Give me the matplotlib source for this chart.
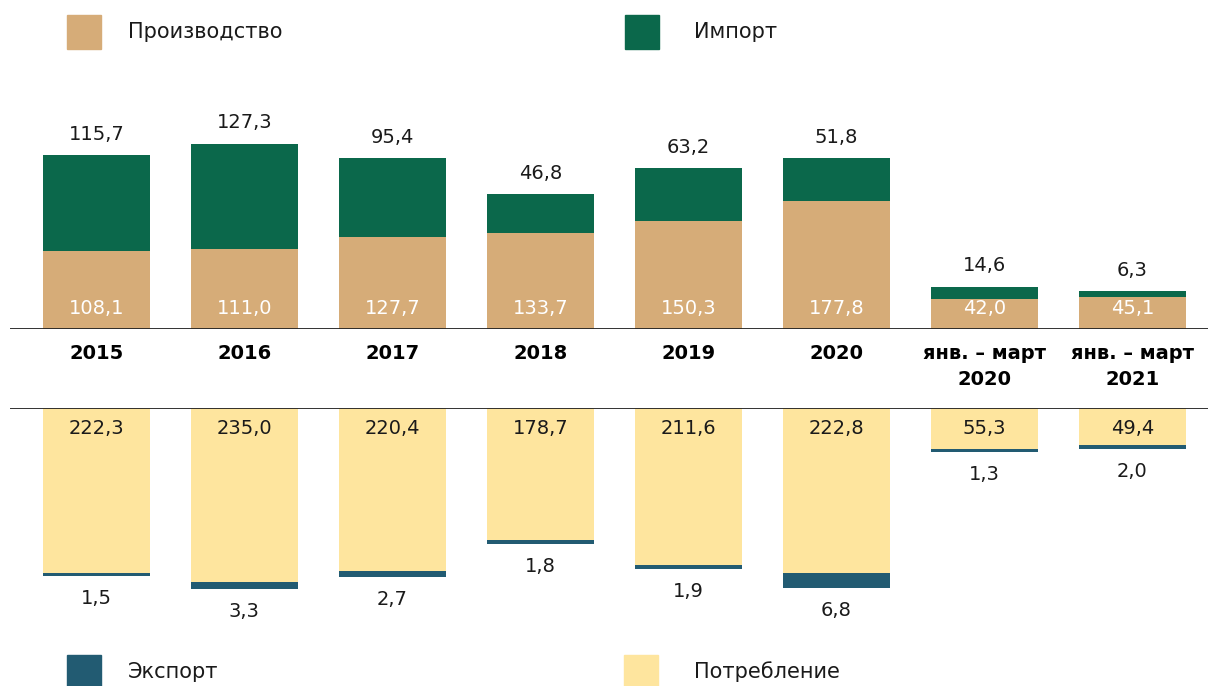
import matplotlib.pyplot as plt
from matplotlib.patches import Rectangle
import numpy as np

plt.rcParams['font.family'] = ['DejaVu Sans']

# Данные ------------
categories = ["2015", "2016", "2017", "2018", "2019", "2020", "янв. – март\n2020", "янв. – март\n2021"]
production = [108.1, 111.0, 127.7, 133.7, 150.3, 177.8, 42.0, 45.1]
imports = [115.7, 127.3, 95.4, 46.8, 63.2, 51.8, 14.6, 6.3]
consumption = [222.3, 235.0, 220.4, 178.7, 211.6, 222.8, 55.3, 49.4]
exports = [1.5, 3.3, 2.7, 1.8, 1.9, 6.8, 1.3, 2.0]
# --------------------

# масштаб на рисунке разный для серий (как в оригинале)
k_imp = 1.15
k_exp = 3.0

c_prod = "#D6AC78"
c_imp = "#0B684B"
c_cons = "#FEE59E"
c_exp = "#225B72"

def fmt(v):
    return f"{v:.1f}".replace(".", ",")

W, H = 1208, 686
fig = plt.figure(figsize=(W / 100, H / 100), dpi=100)

x = np.arange(len(categories))
width = 0.723
xlim = (-0.584, 7.511)

# Верхний график -----------
ax1 = fig.add_axes([10 / W, 357 / H, 1198 / W, 239 / H])
imp_scaled = np.array(imports) * k_imp
ax1.bar(x, production, width, color=c_prod)
ax1.bar(x, imp_scaled, width, bottom=production, color=c_imp)
for i in range(len(x)):
    ax1.text(x[i], 28, fmt(production[i]), ha="center", va="center", color="white", fontsize=14)
    ax1.text(x[i], production[i] + imp_scaled[i] + 29, fmt(imports[i]), ha="center", va="center",
             color="#1a1a1a", fontsize=14)
ax1.set_xlim(xlim)
ax1.set_ylim(0, 239 / 0.72)
ax1.axhline(0, color="#222222", lw=1.3)
ax1.axis("off")

# Нижний график -----------
ax2 = fig.add_axes([10 / W, 66 / H, 1198 / W, 212 / H])
exp_scaled = np.array(exports) * k_exp
ax2.bar(x, consumption, width, color=c_cons)
ax2.bar(x, exp_scaled, width, bottom=consumption, color=c_exp)
for i in range(len(x)):
    ax2.text(x[i], 28, fmt(consumption[i]), ha="center", va="center", color="#1a1a1a", fontsize=14)
    ax2.text(x[i], consumption[i] + exp_scaled[i] + 30, fmt(exports[i]), ha="center", va="center",
             color="#1a1a1a", fontsize=14)
ax2.set_xlim(xlim)
ax2.set_ylim(212 / 0.74, 0)
ax2.axhline(0, color="#222222", lw=1.3)
ax2.axis("off")

# Подписи категорий
for i in range(len(x)):
    ax1.text(x[i], -15 / 0.72, categories[i], ha="center", va="top", fontsize=14,
             fontweight="bold", linespacing=1.45)

# Легенда -----------
legend = [("Производство", c_prod, 67, 15, 128), ("Импорт", c_imp, 625, 15, 694),
          ("Экспорт", c_exp, 67, 655, 128), ("Потребление", c_cons, 624, 655, 694)]
for name, col, px, py, tx in legend:
    fig.add_artist(Rectangle((px / W, 1 - (py + 34) / H), 34 / W, 34 / H,
                             transform=fig.transFigure, color=col))
    fig.text(tx / W, 1 - (py + 17) / H, name, ha="left", va="center", fontsize=15, color="#1a1a1a")

plt.savefig("out.png", dpi=100)
